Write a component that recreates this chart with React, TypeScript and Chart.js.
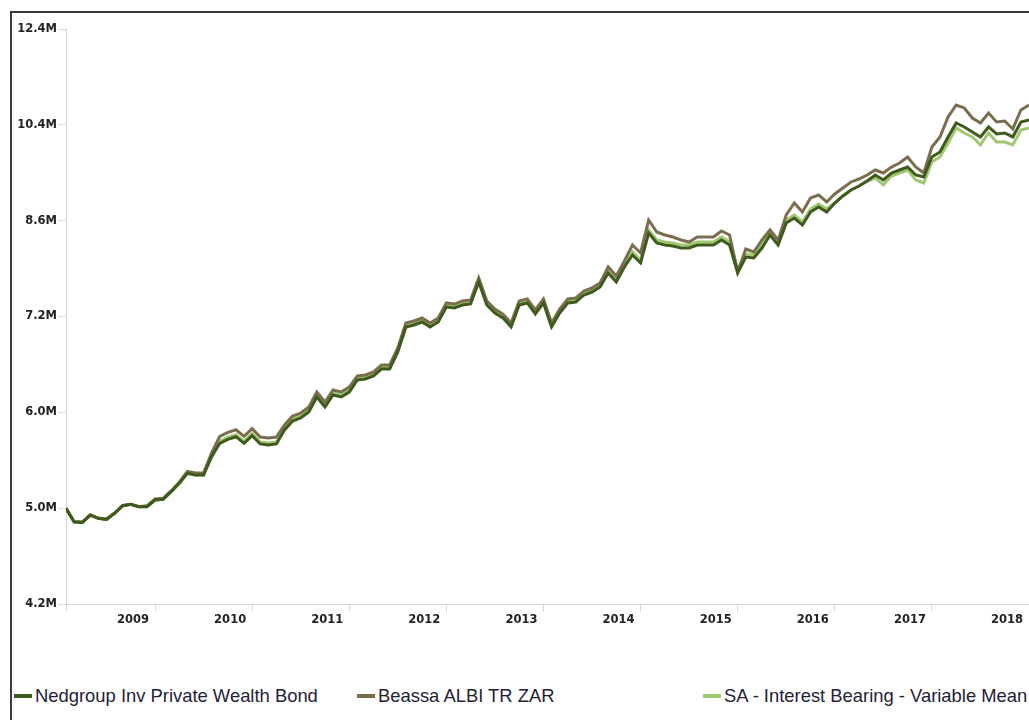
import { Chart, registerables } from 'chart.js';
import { useEffect, useRef } from 'react';

Chart.register(...registerables);

// monthly growth of 5M, values in millions (month 0 = start of series)
const nedgroup = [
    5.029, 4.904, 4.898, 4.966, 4.935, 4.926, 4.982, 5.054, 5.067, 5.044,
    5.044, 5.108, 5.115, 5.189, 5.272, 5.372, 5.355, 5.355, 5.542, 5.684,
    5.727, 5.755, 5.684, 5.766, 5.677, 5.666, 5.677, 5.828, 5.928, 5.961,
    6.029, 6.202, 6.086, 6.225, 6.202, 6.26, 6.404, 6.416, 6.452, 6.538,
    6.538, 6.75, 7.076, 7.102, 7.142, 7.076, 7.142, 7.347, 7.333, 7.375,
    7.389, 7.701, 7.375, 7.264, 7.196, 7.076, 7.375, 7.403, 7.251, 7.403,
    7.076, 7.264, 7.403, 7.417, 7.515, 7.557, 7.629, 7.833, 7.701, 7.922,
    8.103, 7.982, 8.445, 8.288, 8.257, 8.241, 8.21, 8.21, 8.257, 8.257,
    8.257, 8.335, 8.257, 7.833, 8.072, 8.057, 8.21, 8.414, 8.257, 8.606,
    8.687, 8.573, 8.786, 8.869, 8.786, 8.936, 9.055, 9.158, 9.227, 9.314,
    9.42, 9.332, 9.455, 9.509, 9.563, 9.42, 9.384, 9.745, 9.837, 10.119,
    10.389, 10.311, 10.214, 10.119, 10.311, 10.176, 10.195, 10.119, 10.408, 10.448,
];

const beassa = [
    5.029, 4.904, 4.898, 4.966, 4.935, 4.926, 4.982, 5.054, 5.067, 5.044,
    5.053, 5.118, 5.125, 5.199, 5.282, 5.392, 5.375, 5.375, 5.584, 5.759,
    5.803, 5.831, 5.759, 5.843, 5.752, 5.741, 5.752, 5.883, 5.984, 6.017,
    6.086, 6.261, 6.144, 6.284, 6.261, 6.319, 6.452, 6.464, 6.501, 6.587,
    6.587, 6.801, 7.129, 7.156, 7.196, 7.129, 7.196, 7.403, 7.388, 7.431,
    7.445, 7.759, 7.431, 7.319, 7.25, 7.129, 7.431, 7.459, 7.306, 7.459,
    7.129, 7.319, 7.459, 7.473, 7.572, 7.614, 7.687, 7.922, 7.788, 8.012,
    8.257, 8.134, 8.654, 8.461, 8.414, 8.382, 8.335, 8.303, 8.382, 8.382,
    8.382, 8.477, 8.414, 7.848, 8.195, 8.149, 8.335, 8.494, 8.335, 8.737,
    8.936, 8.785, 9.021, 9.072, 8.953, 9.089, 9.192, 9.297, 9.349, 9.42,
    9.509, 9.456, 9.562, 9.635, 9.745, 9.563, 9.455, 9.93, 10.119, 10.507,
    10.747, 10.687, 10.487, 10.389, 10.586, 10.409, 10.428, 10.273, 10.646, 10.747,
];

const saInterest = [
    5.029, 4.904, 4.898, 4.966, 4.935, 4.926, 4.982, 5.054, 5.067, 5.044,
    5.044, 5.108, 5.115, 5.189, 5.272, 5.372, 5.355, 5.355, 5.563, 5.705,
    5.749, 5.777, 5.705, 5.788, 5.698, 5.687, 5.698, 5.85, 5.95, 5.983,
    6.052, 6.225, 6.109, 6.248, 6.225, 6.284, 6.428, 6.44, 6.476, 6.563,
    6.563, 6.775, 7.103, 7.129, 7.169, 7.103, 7.169, 7.375, 7.361, 7.403,
    7.417, 7.73, 7.403, 7.291, 7.223, 7.103, 7.403, 7.431, 7.278, 7.431,
    7.103, 7.291, 7.431, 7.445, 7.543, 7.585, 7.658, 7.863, 7.73, 7.952,
    8.149, 8.027, 8.493, 8.335, 8.304, 8.288, 8.256, 8.256, 8.304, 8.304,
    8.304, 8.382, 8.304, 7.877, 8.118, 8.103, 8.256, 8.462, 8.304, 8.655,
    8.736, 8.622, 8.836, 8.919, 8.836, 8.936, 9.055, 9.158, 9.227, 9.314,
    9.367, 9.245, 9.402, 9.455, 9.509, 9.332, 9.279, 9.654, 9.745, 10.005,
    10.292, 10.195, 10.118, 9.968, 10.195, 10.024, 10.024, 9.968, 10.252, 10.292,
];

const yTicks = [4.2, 5.031, 6.026, 7.218, 8.646, 10.356, 12.4];
const xTickMonths = [0, 11, 23, 35, 47, 59, 71, 83, 95, 107, 119];
const xTickLabels = ['', '2009', '2010', '2011', '2012', '2013', '2014', '2015', '2016', '2017', '2018'];

const series = [
    { name: 'Nedgroup Inv Private Wealth Bond', color: '#3e5a1c', values: nedgroup, left: 14 },
    { name: 'Beassa ALBI TR ZAR', color: '#7a6e4e', values: beassa, left: 357 },
    { name: 'SA - Interest Bearing - Variable Mean', color: '#9fc870', values: saInterest, left: 703 },
];

const axisGrey = '#d9d9d9';
const tickFont = { family: 'DejaVu Sans', size: 11.5, weight: 'bold' as const };

export default function App() {
    const canvasRef = useRef<HTMLCanvasElement>(null);

    useEffect(() => {
        if (!canvasRef.current) return;
        const chart = new Chart(canvasRef.current, {
            type: 'line',
            data: {
                datasets: series.map((s) => ({
                    label: s.name,
                    data: s.values.map((v, i) => ({ x: i, y: v })),
                    borderColor: s.color,
                    backgroundColor: s.color,
                    borderWidth: 3,
                    pointRadius: 0,
                    tension: 0,
                    fill: false,
                })),
            },
            options: {
                responsive: false,
                animation: false,
                layout: { padding: { top: 29, left: 0, right: 0, bottom: 0 } },
                plugins: {
                    legend: { display: false },
                    tooltip: { enabled: false },
                },
                scales: {
                    x: {
                        type: 'linear',
                        min: 0,
                        max: 119,
                        afterBuildTicks: (scale) => {
                            scale.ticks = xTickMonths.map((v) => ({ value: v }));
                        },
                        afterFit: (scale) => {
                            scale.height = 36;
                            scale.paddingLeft = 0;
                            scale.paddingRight = 0;
                        },
                        ticks: {
                            autoSkip: false,
                            maxRotation: 0,
                            labelOffset: -22,
                            padding: 1,
                            color: '#222',
                            font: tickFont,
                            callback: (v) => xTickLabels[xTickMonths.indexOf(Number(v))] ?? '',
                        },
                        grid: { drawOnChartArea: false, tickLength: 8, color: axisGrey },
                        border: { color: axisGrey },
                    },
                    y: {
                        type: 'logarithmic',
                        min: 4.2,
                        max: 12.4,
                        afterBuildTicks: (scale) => {
                            scale.ticks = yTicks.map((v) => ({ value: v }));
                        },
                        afterFit: (scale) => {
                            scale.width = 66;
                        },
                        ticks: {
                            padding: 1,
                            color: '#222',
                            font: tickFont,
                            callback: (v) => `${Number(v).toFixed(1)}M`,
                        },
                        grid: { drawOnChartArea: false, tickLength: 8, color: axisGrey },
                        border: { color: axisGrey },
                    },
                },
            },
        });
        return () => chart.destroy();
    }, []);

    return (
        <div
            style={{
                position: 'absolute',
                left: 0,
                top: 0,
                width: 1029,
                height: 720,
                overflow: 'hidden',
                background: '#fff',
                fontFamily: '"Liberation Sans", Arial, sans-serif',
            }}
        >
            <div
                style={{
                    position: 'absolute',
                    left: 10,
                    top: 11,
                    width: 1100,
                    height: 800,
                    borderLeft: '2px solid #3c3c3c',
                    borderTop: '2px solid #3c3c3c',
                }}
            />
            <canvas
                ref={canvasRef}
                width={1029}
                height={640}
                style={{ position: 'absolute', left: 0, top: 0, width: 1029, height: 640 }}
            />
            {series.map((s) => (
                <div
                    key={s.name}
                    style={{
                        position: 'absolute',
                        left: s.left,
                        top: 684,
                        height: 24,
                        display: 'flex',
                        alignItems: 'center',
                        whiteSpace: 'nowrap',
                        fontSize: 18.4,
                        color: '#1f2235',
                    }}
                >
                    <span
                        style={{
                            display: 'inline-block',
                            width: 18,
                            height: 4,
                            marginRight: 3,
                            background: s.color,
                        }}
                    />
                    {s.name}
                </div>
            ))}
        </div>
    );
}
